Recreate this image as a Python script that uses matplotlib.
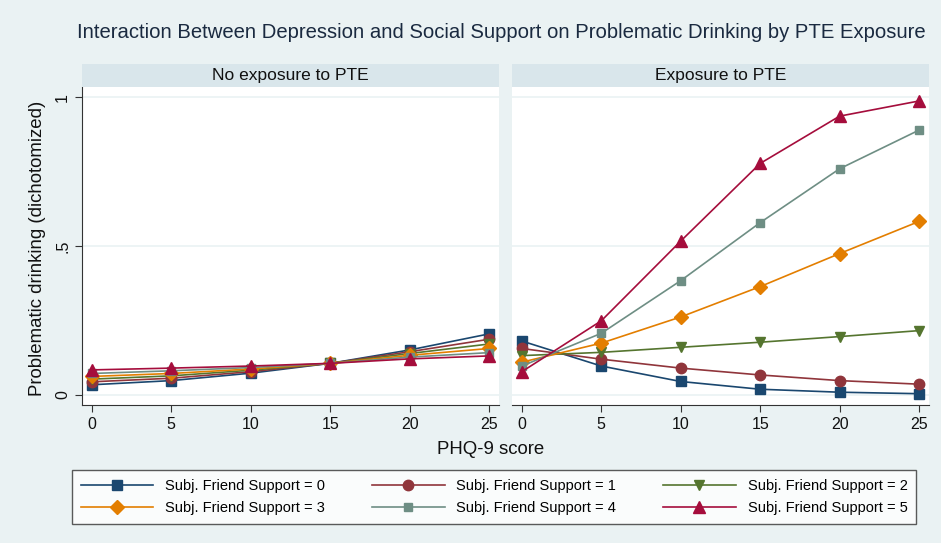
import matplotlib.pyplot as plt

plt.rcParams['font.family'] = ['Liberation Sans', 'DejaVu Sans']

# PHQ-9 score values
phq = [0, 5, 10, 15, 20, 25]

# predicted probabilities, no exposure to PTE
no_pte = {
    0: [0.034, 0.048, 0.073, 0.106, 0.151, 0.205],
    1: [0.044, 0.056, 0.078, 0.106, 0.145, 0.187],
    2: [0.053, 0.064, 0.083, 0.106, 0.139, 0.171],
    3: [0.062, 0.072, 0.087, 0.106, 0.133, 0.156],
    4: [0.072, 0.081, 0.092, 0.106, 0.127, 0.142],
    5: [0.084, 0.090, 0.097, 0.106, 0.121, 0.131],
}

# predicted probabilities, exposure to PTE
pte = {
    0: [0.181, 0.097, 0.045, 0.019, 0.009, 0.004],
    1: [0.156, 0.120, 0.090, 0.067, 0.048, 0.036],
    2: [0.132, 0.143, 0.160, 0.177, 0.196, 0.216],
    3: [0.110, 0.174, 0.262, 0.364, 0.475, 0.583],
    4: [0.097, 0.207, 0.384, 0.579, 0.760, 0.890],
    5: [0.078, 0.249, 0.517, 0.778, 0.937, 0.988],
}

colors = ['#1a476f', '#90353b', '#55752f', '#e37e00', '#6e8e84', '#a50d3c']
markers = ['s', 'o', 'v', 'D', 's', '^']
msizes = [7.5, 7.5, 7.5, 7.5, 5.5, 8]

W, H = 941, 543
bg = '#eaf2f3'
fig = plt.figure(figsize=(W / 100, H / 100), dpi=100, facecolor=bg)


def px(x0, y0, x1, y1):
    return [x0 / W, 1 - y1 / H, (x1 - x0) / W, (y1 - y0) / H]


fig.text(501 / W, 1 - 33 / H,
         'Interaction Between Depression and Social Support on Problematic Drinking by PTE Exposure',
         ha='center', va='center', fontsize=14.6, color='#1a2a40')

panels = [(82, 499, 'No exposure to PTE', no_pte), (512, 929, 'Exposure to PTE', pte)]
axes = []
for i, (x0, x1, title, data) in enumerate(panels):
    ax = fig.add_axes(px(x0, 87, x1, 405))
    ax.set_facecolor('white')
    strip = fig.add_axes(px(x0, 64, x1, 87))
    strip.set_facecolor('#d9e6eb')
    strip.set_xticks([])
    strip.set_yticks([])
    for s in strip.spines.values():
        s.set_visible(False)
    strip.text(0.5, 0.5, title, ha='center', va='center', fontsize=12.5,
               transform=strip.transAxes, color='#111111')

    for g in [0, 0.5, 1]:
        ax.axhline(g, color=bg, lw=1.2, zorder=0)
    for k in range(6):
        ax.plot(phq, data[k], color=colors[k], marker=markers[k], ms=msizes[k],
                lw=1.2, label='Subj. Friend Support = %d' % k)

    ax.set_xlim(-0.62, 25.63)
    ax.set_ylim(-0.034, 1.035)
    ax.set_xticks(phq)
    ax.set_yticks([0, 0.5, 1])
    ax.set_yticklabels(['0', '.5', '1'], rotation=90, va='center')
    ax.tick_params(axis='both', labelsize=11.5, color='#333333', length=5,
                   labelcolor='#111111')
    for side in ['top', 'right']:
        ax.spines[side].set_visible(False)
    ax.spines['bottom'].set_color('#333333')
    ax.spines['left'].set_color('#333333')
    if i == 1:
        ax.spines['left'].set_visible(False)
        ax.tick_params(axis='y', left=False, labelleft=False)
    axes.append(ax)

fig.text(38 / W, 1 - 248 / H, 'Problematic drinking (dichotomized)', rotation=90,
         ha='center', va='center', fontsize=13.4, color='#111111')
fig.text(491 / W, 1 - 450 / H, 'PHQ-9 score', ha='center', va='center',
         fontsize=13.4, color='#111111')

handles, labels = axes[1].get_legend_handles_labels()
# matplotlib fills legend columns first; reorder so it reads row by row
order = [0, 3, 1, 4, 2, 5]
leg = fig.legend([handles[j] for j in order], [labels[j] for j in order], ncol=3,
                 loc='center', bbox_to_anchor=((70 + 918) / 2 / W, 1 - 497 / H),
                 fontsize=10.5, frameon=True, fancybox=False, edgecolor='#333333',
                 handlelength=5, columnspacing=3.2, borderpad=0.6, labelspacing=0.6)
leg.get_frame().set_linewidth(1.0)

plt.savefig('out.png', dpi=100, facecolor=bg)
